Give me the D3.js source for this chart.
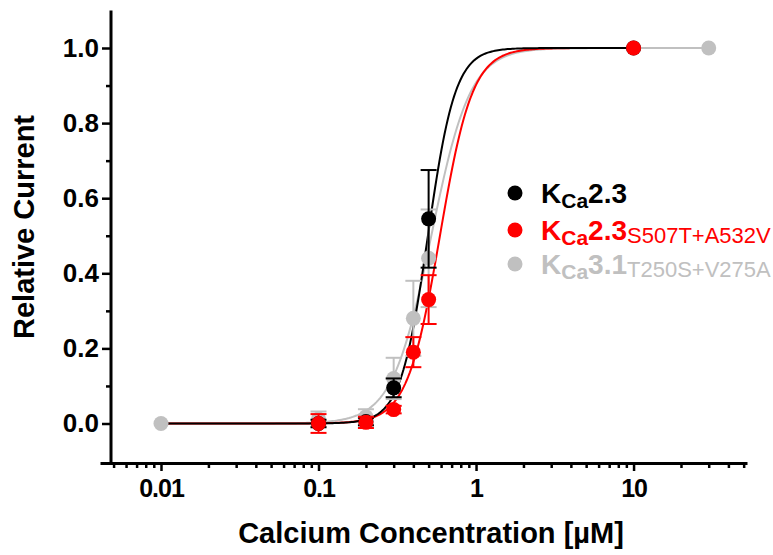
<!DOCTYPE html>
<html>
<head>
<meta charset="utf-8">
<script src="https://cdn.jsdelivr.net/npm/d3@7"></script>
<style>
  body { margin: 0; background: #fff; }
  svg { display: block; font-family: "Liberation Sans", Arial, sans-serif; }
  .axis path, .axis line { stroke: #000; }
  .axis text { font-weight: bold; fill: #000; }
</style>
</head>
<body>
<div id="chart"></div>
<script>
// calcium concentrations (uM) and mean relative current +/- SEM
var concBlack = [0.1, 0.2, 0.3, 0.5, 10];
var meanBlack = [0, 0.005, 0.095, 0.545, 1.0];
var semBlack = [0.01, 0.01, 0.025, 0.13, 0];

var concRed = [0.1, 0.2, 0.3, 0.4, 0.5, 10];
var meanRed = [0, 0.003, 0.037, 0.19, 0.33, 1.0];
var semRed = [0.025, 0.015, 0.01, 0.04, 0.065, 0];

var concGray = [0.01, 0.1, 0.2, 0.3, 0.4, 0.5, 30];
var meanGray = [0, 0.012, 0.018, 0.12, 0.28, 0.44, 1.0];
var semGray = [0, 0.02, 0.02, 0.055, 0.1, 0.13, 0];

// Hill fit parameters: EC50 (uM) and Hill coefficient
var seriesNames = ["KCa2.3", "KCa2.3 S507T+A532V", "KCa3.1 T250S+V275A"];
var ec50 = [0.495, 0.59, 0.52];
var hillN = [5.0, 4.2, 3.5];
var fitEnd = [10, 10, 30];

// legend text pieces
var legMain = ["2.3", "2.3", "3.1"];
var legSub = ["", "S507T+A532V", "T250S+V275A"];

var xTicks = [0.01, 0.1, 1, 10];
var xTickLabels = ["0.01", "0.1", "1", "10"];
var yTicks = [0, 0.2, 0.4, 0.6, 0.8, 1.0];
var yMinor = [0.1, 0.3, 0.5, 0.7, 0.9];

var colors = ["#000000", "#ff0000", "#c0c0c0"];

var W = 773, H = 555;
var svg = d3.select('#chart').append('svg')
  .attr('width', W)
  .attr('height', H);

var x = d3.scaleLog()
  .domain([0.0041, 52.5])
  .range([100, 747]);

var y = d3.scaleLinear()
  .domain([-0.1, 1.1])
  .range([461.05, 10.45]);

var axisX = 463, axisY = 111;

// y axis, major + minor ticks
svg.append('g')
  .attr('class', 'axis')
  .attr('transform', 'translate(' + axisY + ',0)')
  .call(d3.axisLeft(y).tickValues(yTicks).tickSize(9).tickPadding(3)
    .tickSizeOuter(0).tickFormat(d3.format('.1f')))
  .call(function(g) {
    g.select('.domain').attr('stroke-width', 3)
      .attr('d', 'M0,' + (y.range()[1]) + 'V' + (axisX + 1.5));
    g.selectAll('line').attr('stroke-width', 2.5);
    g.selectAll('text').style('font-size', '26px');
  });

svg.append('g')
  .attr('class', 'axis')
  .attr('transform', 'translate(' + axisY + ',0)')
  .call(d3.axisLeft(y).tickValues(yMinor).tickSize(5).tickFormat(''))
  .call(function(g) {
    g.select('.domain').remove();
    g.selectAll('line').attr('stroke-width', 2.5);
  });

// x axis, log scale
var minorX = x.ticks().filter(function(d) {
  return xTicks.indexOf(d) < 0;
});

svg.append('g')
  .attr('class', 'axis')
  .attr('transform', 'translate(0,' + axisX + ')')
  .call(d3.axisBottom(x).tickValues(xTicks).tickSize(8).tickPadding(8)
    .tickSizeOuter(0).tickFormat(function(d, i) { return xTickLabels[i]; }))
  .call(function(g) {
    g.select('.domain').attr('stroke-width', 3);
    g.selectAll('line').attr('stroke-width', 2.5);
    g.selectAll('text').style('font-size', '25px').attr('letter-spacing', '-1px');
  });

svg.append('g')
  .attr('class', 'axis')
  .attr('transform', 'translate(0,' + axisX + ')')
  .call(d3.axisBottom(x).tickValues(minorX).tickSize(5).tickFormat(''))
  .call(function(g) {
    g.select('.domain').remove();
    g.selectAll('line').attr('stroke-width', 2.5);
  });

// axis titles
svg.append('text')
  .attr('transform', 'translate(34,227) rotate(-90)')
  .attr('text-anchor', 'middle')
  .style('font-size', '29px')
  .style('font-weight', 'bold')
  .text('Relative Current');

svg.append('text')
  .attr('x', 431)
  .attr('y', 543)
  .attr('text-anchor', 'middle')
  .style('font-size', '29px')
  .style('font-weight', 'bold')
  .text('Calcium Concentration [\u00b5M]');

// fitted Hill curves
var line = d3.line()
  .x(function(d) { return x(d[0]); })
  .y(function(d) { return y(d[1]); });

var drawOrder = [2, 1, 0];
drawOrder.forEach(function(s) {
  var lo = Math.log10(0.01), hi = Math.log10(fitEnd[s]);
  var pts = d3.range(0, 301).map(function(i) {
    var c = Math.pow(10, lo + (hi - lo) * i / 300);
    return [c, 1 / (1 + Math.pow(ec50[s] / c, hillN[s]))];
  });
  svg.append('path')
    .datum(pts)
    .attr('fill', 'none')
    .attr('stroke', colors[s])
    .attr('stroke-width', 2)
    .attr('d', line);
});

// data points with error bars
var series = [
  {conc: concGray, mean: meanGray, sem: semGray, color: colors[2]},
  {conc: concBlack, mean: meanBlack, sem: semBlack, color: colors[0]},
  {conc: concRed, mean: meanRed, sem: semRed, color: colors[1]}
];

series.forEach(function(s) {
  var pts = s.conc.map(function(c, i) {
    return {c: c, m: s.mean[i], e: s.sem[i]};
  });
  var g = svg.append('g');
  var bars = g.selectAll('g.err')
    .data(pts.filter(function(d) { return d.e > 0; }))
    .enter().append('g')
    .attr('stroke', s.color)
    .attr('stroke-width', 2);
  bars.append('line')
    .attr('x1', function(d) { return x(d.c); })
    .attr('x2', function(d) { return x(d.c); })
    .attr('y1', function(d) { return y(d.m - d.e); })
    .attr('y2', function(d) { return y(d.m + d.e); });
  [1, -1].forEach(function(sign) {
    bars.append('line')
      .attr('x1', function(d) { return x(d.c) - 8; })
      .attr('x2', function(d) { return x(d.c) + 8; })
      .attr('y1', function(d) { return y(d.m + sign * d.e); })
      .attr('y2', function(d) { return y(d.m + sign * d.e); });
  });
  g.selectAll('circle')
    .data(pts)
    .enter().append('circle')
    .attr('cx', function(d) { return x(d.c); })
    .attr('cy', function(d) { return y(d.m); })
    .attr('r', 7.5)
    .attr('fill', s.color);
});

// legend
var legY = [203, 240, 274];
var legend = svg.append('g');
seriesNames.forEach(function(name, i) {
  legend.append('circle')
    .attr('cx', 515)
    .attr('cy', legY[i] - 10)
    .attr('r', 7.5)
    .attr('fill', colors[i]);
  var t = legend.append('text')
    .attr('x', 541)
    .attr('y', legY[i])
    .attr('fill', colors[i])
    .style('font-weight', 'bold')
    .style('font-size', '28px');
  t.append('tspan').text('K');
  t.append('tspan').style('font-size', '21px').attr('dy', 5).text('Ca');
  t.append('tspan').attr('dy', -5).text(legMain[i]);
  if (legSub[i]) {
    t.append('tspan')
      .style('font-size', '22px')
      .style('font-weight', 'normal')
      .attr('dy', 3)
      .text(legSub[i]);
  }
});
</script>
</body>
</html>
